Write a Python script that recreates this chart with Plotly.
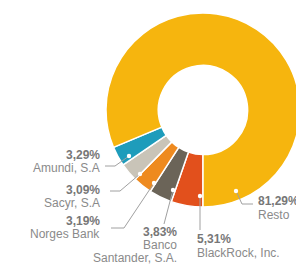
import plotly.graph_objects as go

# ---- data ----
names = ["BlackRock, Inc.", "Banco Santander, S.A.", "Norges Bank", "Sacyr, S.A", "Amundi, S.A", "Resto"]
values = [5.31, 3.83, 3.19, 3.09, 3.29, 81.29]
pct_labels = ["5,31%", "3,83%", "3,19%", "3,09%", "3,29%", "81,29%"]
label_lines = [["BlackRock, Inc."], ["Banco", "Santander, S.A."], ["Norges Bank"], ["Sacyr, S.A"], ["Amundi, S.A"], ["Resto"]]
colors = ["#E2501C", "#6B6458", "#EE8A1F", "#C9C4B8", "#1E9CBB", "#F6B50E"]

W, H = 304, 264

def px(x):
    return x / W

def py(y):
    return 1 - y / H

# pie placement (pixels)
cx, cy, R = 195, 102, 97

fig = go.Figure(go.Pie(
    labels=names, values=values, sort=False, direction="clockwise", rotation=180,
    hole=0.46, marker=dict(colors=colors, line=dict(color="white", width=1.5)),
    textinfo="none", hoverinfo="label+percent", showlegend=False,
    domain=dict(x=[px(cx - R), px(cx + R)], y=[py(cy + R), py(cy - R)]),
))

# label layout (pixels): x anchor, y of each line centre, alignment
label_pos = [
    (188, [231, 245], "left"),
    (170, [224, 237, 250], "right"),
    (93, [213, 226], "right"),
    (93, [182, 195], "right"),
    (93, [147, 160], "right"),
    (249, [193, 207], "left"),
]
# leader polylines (pixels): from dot in slice to label
leaders = [
    [(192, 188), (192, 222)],
    [(165, 182), (156, 216)],
    [(146, 175), (116, 220), (103, 220)],
    [(132, 166), (112, 183), (102, 183)],
    [(121, 148), (107, 158), (97, 158)],
    [(228, 183), (234, 196), (245, 196)],
]

annotations = []
shapes = []
font_family = "Liberation Sans, Arial"
for i in range(len(values)):
    x, ys, al = label_pos[i]
    texts = [pct_labels[i]] + label_lines[i]
    for j, t in enumerate(texts):
        annotations.append(dict(
            x=px(x), y=py(ys[j]), xref="paper", yref="paper",
            text=("<b>" + t + "</b>") if j == 0 else t, showarrow=False,
            xanchor=al, yanchor="middle", align=al, borderpad=0,
            font=dict(family=font_family, size=12, color="#777777" if j == 0 else "#8a8a8a"),
        ))
    pts = leaders[i]
    path = "M " + " L ".join(f"{px(a)},{py(b)}" for a, b in pts)
    shapes.append(dict(type="path", path=path, xref="paper", yref="paper",
                       line=dict(color="#a0a0a0", width=1)))
    dx, dy = pts[0]
    r = 2.2
    shapes.append(dict(type="circle", xref="paper", yref="paper",
                       x0=px(dx - r), x1=px(dx + r), y0=py(dy + r), y1=py(dy - r),
                       fillcolor="white", line=dict(width=0)))

fig.update_layout(
    width=W, height=H, margin=dict(l=0, r=0, t=0, b=0),
    paper_bgcolor="white", plot_bgcolor="white",
    annotations=annotations, shapes=shapes,
)
fig.write_html("out.html")
